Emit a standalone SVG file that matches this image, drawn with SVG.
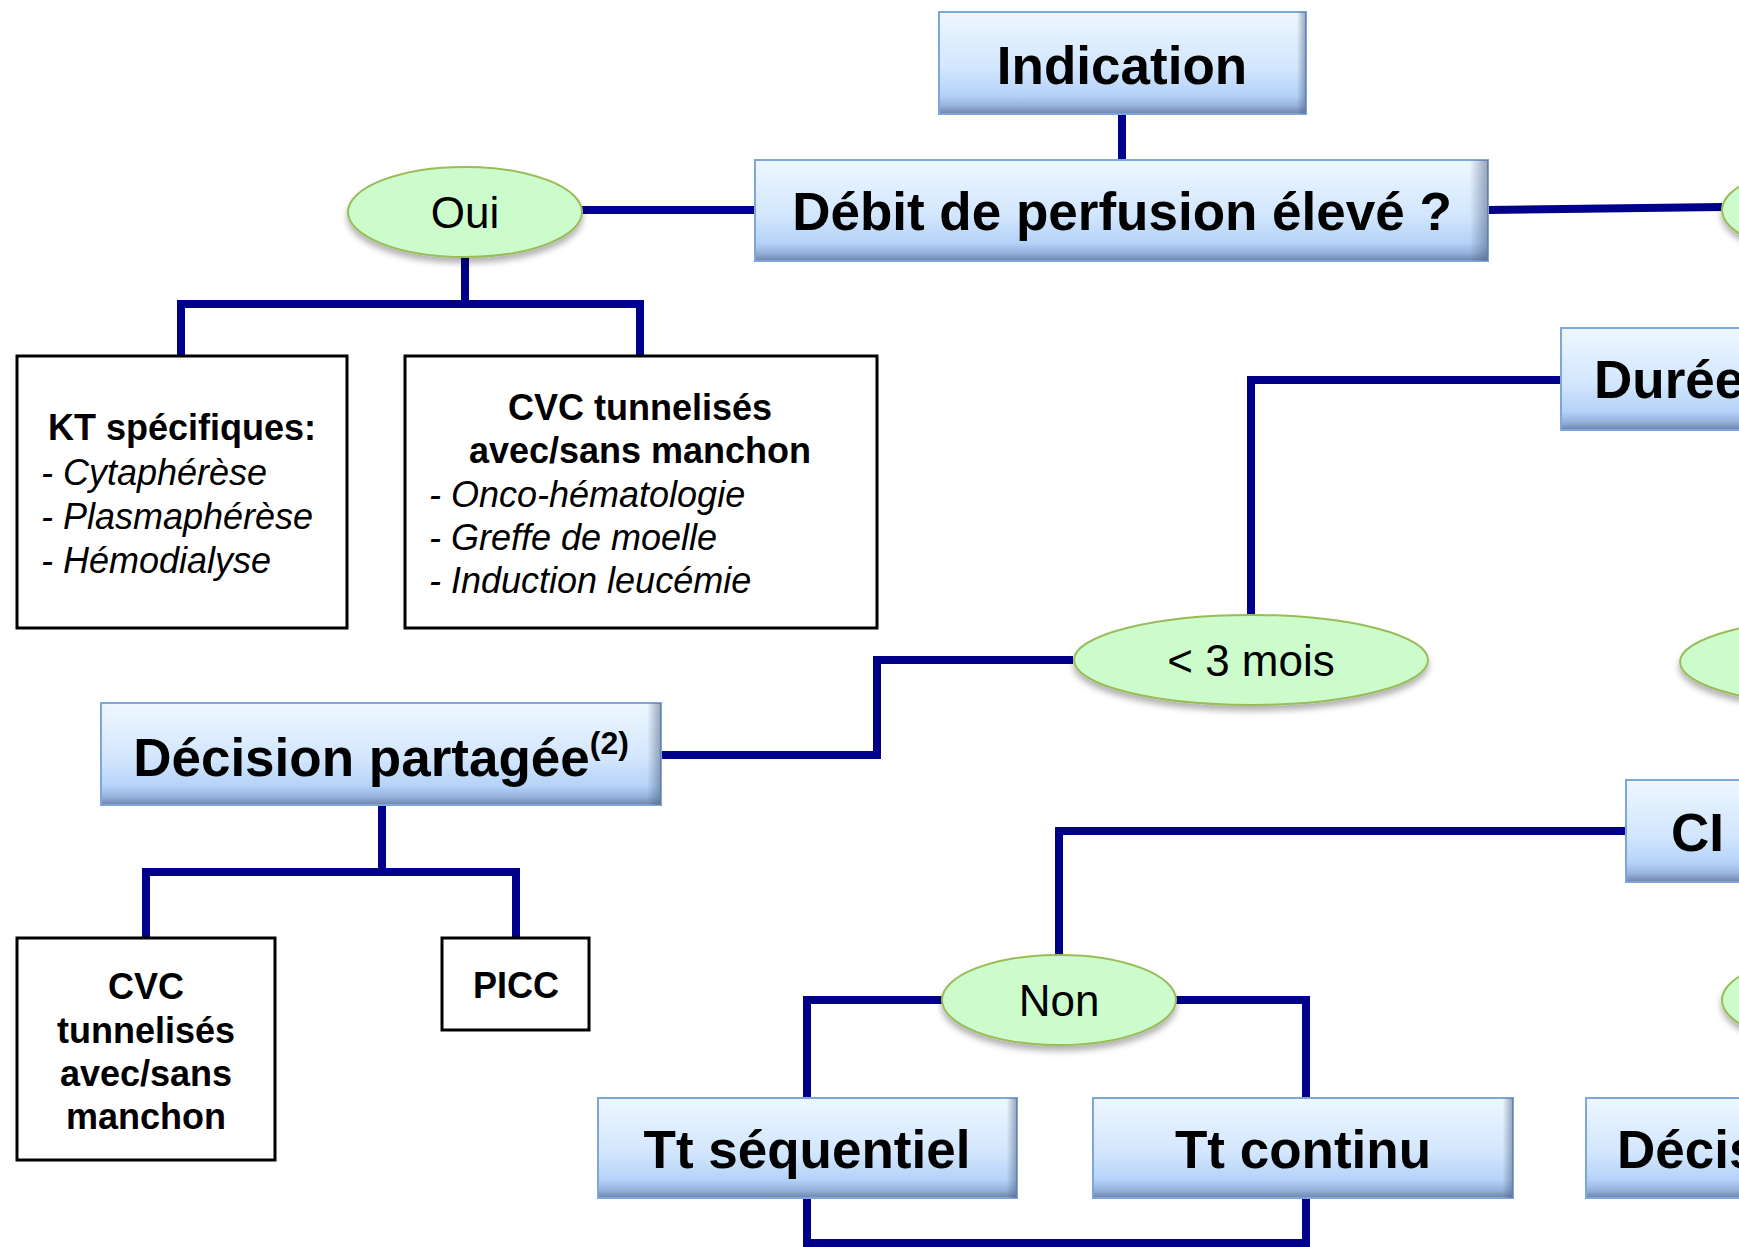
<svg xmlns="http://www.w3.org/2000/svg" width="1739" height="1247" viewBox="0 0 1739 1247">
<defs>
<linearGradient id="gBlue" x1="0" y1="0" x2="0" y2="1">
<stop offset="0" stop-color="#eef7ff"/>
<stop offset="0.55" stop-color="#d2e6fd"/>
<stop offset="0.82" stop-color="#b4d2f8"/>
<stop offset="0.92" stop-color="#95b2dc"/>
<stop offset="1" stop-color="#6e82aa"/>
</linearGradient>
<linearGradient id="gEdge" x1="0" y1="0" x2="1" y2="0">
<stop offset="0" stop-color="#50607f" stop-opacity="0"/>
<stop offset="0.975" stop-color="#50607f" stop-opacity="0"/>
<stop offset="1" stop-color="#50607f" stop-opacity="0.55"/>
</linearGradient>
<filter id="sh" x="-10%" y="-10%" width="120%" height="135%">
<feDropShadow dx="0" dy="5" stdDeviation="3" flood-color="#000" flood-opacity="0.3"/>
</filter>
</defs>
<style>
.bx{fill:url(#gBlue);stroke:#7fa6da;stroke-width:2}
.ed{fill:url(#gEdge);stroke:none}
.el{fill:#ccfccb;stroke:#9bbb59;stroke-width:2;filter:url(#sh)}
.bk{fill:#fff;stroke:#000;stroke-width:3}
.t1{font-family:"Liberation Sans",Arial,sans-serif;font-weight:bold;font-size:53px;fill:#000}
.t2{font-family:"Liberation Sans",Arial,sans-serif;font-size:44px;fill:#000}
.t3{font-family:"Liberation Sans",Arial,sans-serif;font-weight:bold;font-size:36px;fill:#000}
.t4{font-family:"Liberation Sans",Arial,sans-serif;font-style:italic;font-size:36px;fill:#000}
.c{text-anchor:middle}
.ln{fill:none;stroke:#00008b;stroke-width:8;stroke-linejoin:miter;stroke-linecap:butt}
</style>
<rect width="1739" height="1247" fill="#fff"/>

<g id="connectors">
<path class="ln" d="M1122 114 V160"/>
<path class="ln" d="M755 210 H582"/>
<path class="ln" d="M1488 210 L1722 207"/>
<path class="ln" d="M465 257 V304"/>
<path class="ln" d="M181 356 V304 H640 V356"/>
<path class="ln" d="M1561 380 H1251 V615"/>
<path class="ln" d="M1073 660 H877 V755 H661"/>
<path class="ln" d="M382 805 V872"/>
<path class="ln" d="M146 938 V872 H516 V938"/>
<path class="ln" d="M1626 831 H1059 V955"/>
<path class="ln" d="M942 1000 H807 V1098"/>
<path class="ln" d="M1176 1000 H1306 V1098"/>
<path class="ln" d="M807 1198 V1243 H1306 V1198"/>
</g>

<g id="indication">
<rect class="bx" x="939" y="12" width="367" height="102"/>
<rect class="ed" x="939" y="12" width="367" height="102"/>
<text class="t1 c" x="1122" y="84">Indication</text>
</g>

<g id="debit">
<rect class="bx" x="755" y="160" width="733" height="101"/>
<rect class="ed" x="755" y="160" width="733" height="101"/>
<text class="t1 c" x="1122" y="230">Débit de perfusion élevé ?</text>
</g>

<g id="oui">
<ellipse class="el" cx="465" cy="212" rx="117" ry="45"/>
<text class="t2 c" x="465" y="228">Oui</text>
</g>

<g id="non-right-top">
<ellipse class="el" cx="1839" cy="210" rx="117" ry="45"/>
</g>

<g id="kt">
<rect class="bk" x="17" y="356" width="330" height="272"/>
<text class="t3 c" x="182" y="440">KT spécifiques:</text>
<text class="t4" x="41" y="485">- Cytaphérèse</text>
<text class="t4" x="41" y="529">- Plasmaphérèse</text>
<text class="t4" x="41" y="573">- Hémodialyse</text>
</g>

<g id="cvc1">
<rect class="bk" x="405" y="356" width="472" height="272"/>
<text class="t3 c" x="640" y="420">CVC tunnelisés</text>
<text class="t3 c" x="640" y="463">avec/sans manchon</text>
<text class="t4" x="429" y="507">- Onco-hématologie</text>
<text class="t4" x="429" y="550">- Greffe de moelle</text>
<text class="t4" x="429" y="593">- Induction leucémie</text>
</g>

<g id="duree">
<rect class="bx" x="1561" y="328" width="240" height="102"/>
<text class="t1" x="1594" y="398">Durée</text>
</g>

<g id="moins3mois">
<ellipse class="el" cx="1251" cy="660" rx="177" ry="45"/>
<text class="t2 c" x="1251" y="676">&lt; 3 mois</text>
</g>

<g id="right-ellipse-mid">
<ellipse class="el" cx="1857" cy="662" rx="177" ry="45"/>
</g>

<g id="decision">
<rect class="bx" x="101" y="703" width="560" height="102"/>
<rect class="ed" x="101" y="703" width="560" height="102"/>
<text class="t1 c" x="381" y="776">Décision partagée<tspan font-size="32" dy="-22">(2)</tspan></text>
</g>

<g id="ci">
<rect class="bx" x="1626" y="780" width="180" height="102"/>
<text class="t1" x="1671" y="851">CI</text>
</g>

<g id="cvc2">
<rect class="bk" x="17" y="938" width="258" height="222"/>
<text class="t3 c" x="146" y="999">CVC</text>
<text class="t3 c" x="146" y="1043">tunnelisés</text>
<text class="t3 c" x="146" y="1086">avec/sans</text>
<text class="t3 c" x="146" y="1129">manchon</text>
</g>

<g id="picc">
<rect class="bk" x="442" y="938" width="147" height="92"/>
<text class="t3 c" x="516" y="998">PICC</text>
</g>

<g id="non">
<ellipse class="el" cx="1059" cy="1000" rx="117" ry="45"/>
<text class="t2 c" x="1059" y="1016">Non</text>
</g>

<g id="right-ellipse-low">
<ellipse class="el" cx="1839" cy="1000" rx="117" ry="45"/>
</g>

<g id="tt-sequentiel">
<rect class="bx" x="598" y="1098" width="419" height="100"/>
<rect class="ed" x="598" y="1098" width="419" height="100"/>
<text class="t1 c" x="807" y="1168">Tt séquentiel</text>
</g>

<g id="tt-continu">
<rect class="bx" x="1093" y="1098" width="420" height="100"/>
<rect class="ed" x="1093" y="1098" width="420" height="100"/>
<text class="t1 c" x="1303" y="1168">Tt continu</text>
</g>

<g id="decision-right">
<rect class="bx" x="1586" y="1098" width="240" height="100"/>
<text class="t1" x="1617" y="1168">Décis</text>
</g>
</svg>
